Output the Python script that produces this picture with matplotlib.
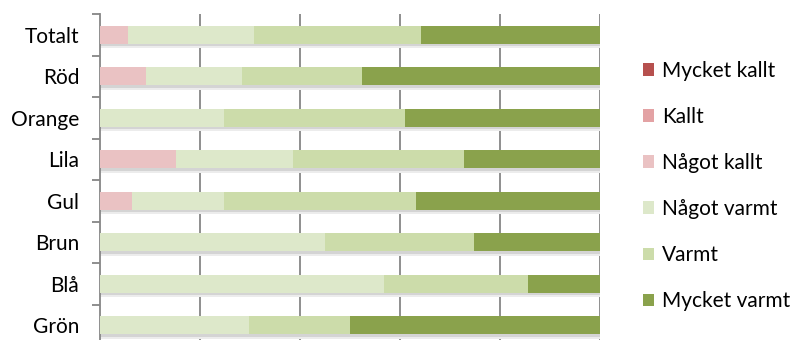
import matplotlib.pyplot as plt
import numpy as np

# categories top to bottom
categories = ["Totalt", "Röd", "Orange", "Lila", "Gul", "Brun", "Blå", "Grön"]
series = ["Mycket kallt", "Kallt", "Något kallt", "Något varmt", "Varmt", "Mycket varmt"]

mycket_kallt = [0, 0, 0, 0, 0, 0, 0, 0]
kallt = [0, 0, 0, 0, 0, 0, 0, 0]
nagot_kallt = [5.6, 9.2, 0, 15.2, 6.4, 0, 0, 0]
nagot_varmt = [25.2, 19.2, 24.8, 23.4, 18.4, 45.0, 56.8, 29.8]
varmt = [33.4, 23.9, 36.2, 34.3, 38.4, 29.7, 28.9, 20.2]
mycket_varmt = [35.8, 47.7, 39.0, 27.1, 36.8, 25.3, 14.3, 50.0]

colors = ["#B6504E", "#E3A2A4", "#EAC2C3", "#DDE8CA", "#CCDCAA", "#8AA24C"]

plt.rcParams['font.family'] = ['Lato', 'DejaVu Sans']

fig = plt.figure(figsize=(7.91, 3.40), dpi=100)
ax = fig.add_axes([100/791, -6/340, 500/791, 332/340])

y = np.arange(len(categories))
left = np.zeros(len(categories))
data = [mycket_kallt, kallt, nagot_kallt, nagot_varmt, varmt, mycket_varmt]

# soft shadow under each bar
ax.barh(y + 0.25, 100, height=0.07, color="#d4d4d4", zorder=2.5)
ax.barh(y + 0.30, 100, height=0.05, color="#ececec", zorder=2.5)

for vals, name, c in zip(data, series, colors):
    ax.barh(y, vals, left=left, height=0.44, color=c, label=name, zorder=3)
    left += np.array(vals)

ax.set_xlim(0, 100)
ax.set_ylim(len(categories) - 0.5, -0.5)
ax.set_xticks([20, 40, 60, 80, 100])
ax.xaxis.grid(True, color="#868686", linewidth=1.3, zorder=0)
ax.tick_params(axis="x", length=0, labelbottom=False)
ax.set_yticks(y)
ax.set_yticklabels(categories, fontsize=15)
ax.set_yticks(np.arange(-0.5, len(categories)), minor=True)
ax.tick_params(axis="y", which="major", length=0, pad=15)
ax.tick_params(axis="y", which="minor", length=6, width=1.3, color="#868686")
for s in ["top", "right", "bottom"]:
    ax.spines[s].set_visible(False)
ax.spines["left"].set_color("#868686")
ax.spines["left"].set_linewidth(1.3)

fig.legend(loc="upper left", bbox_to_anchor=(643/791, 1 - 61/340), frameon=False,
           fontsize=15, labelspacing=1.25, handlelength=0.55, handleheight=0.55,
           handletextpad=0.35, borderaxespad=0, borderpad=0)

fig.savefig("out.png", dpi=100)
